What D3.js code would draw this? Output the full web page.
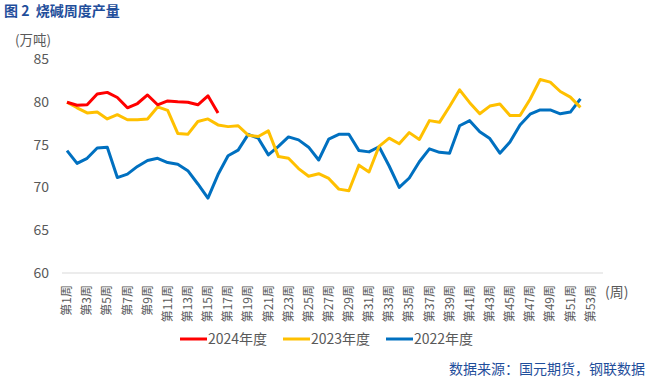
<!DOCTYPE html>
<html>
<head>
<meta charset="utf-8">
<script src="https://cdn.jsdelivr.net/npm/d3@7"></script>
<style>
  body { margin: 0; background: #fff; }
  svg { display: block; font-family: "Noto Sans CJK SC", "Noto Sans", sans-serif; }
</style>
</head>
<body>
<div id="chart"></div>
<script>
// Weekly caustic soda output (10k tonnes), weeks 1-53
const weeks = d3.range(1, 54);
const yTicks = [60, 65, 70, 75, 80, 85];

const s2024 = [79.95, 79.6, 79.65, 80.9, 81.1, 80.5, 79.3, 79.8, 80.8, 79.65,
  80.1, 80.0, 79.95, 79.65, 80.7, 78.7];

const s2023 = [79.95, 79.3, 78.7, 78.8, 78.0, 78.5, 77.9, 77.9, 78.0, 79.4,
  79.0, 76.3, 76.2, 77.7, 78.0, 77.3, 77.1, 77.2, 76.1, 75.95,
  76.6, 73.6, 73.4, 72.2, 71.3, 71.6, 71.05, 69.8, 69.6, 72.6,
  71.8, 74.8, 75.75, 75.1, 76.4, 75.6, 77.8, 77.6, 79.45, 81.4,
  79.9, 78.6, 79.5, 79.75, 78.4, 78.4, 80.3, 82.6, 82.3, 81.2,
  80.55, 79.35];

const s2022 = [74.3, 72.8, 73.4, 74.6, 74.7, 71.15, 71.55, 72.45, 73.15, 73.4,
  72.9, 72.7, 71.95, 70.4, 68.75, 71.5, 73.7, 74.35, 76.2, 75.75,
  73.8, 74.8, 75.9, 75.55, 74.7, 73.2, 75.65, 76.2, 76.2, 74.3,
  74.15, 74.75, 72.5, 70.0, 71.1, 73.0, 74.5, 74.1, 74.0, 77.2,
  77.8, 76.5, 75.7, 74.0, 75.3, 77.3, 78.55, 79.05, 79.05, 78.6,
  78.8, 80.35];

const series = [
  { name: "2024年度", values: s2024, color: "#ff0000" },
  { name: "2023年度", values: s2023, color: "#ffc000" },
  { name: "2022年度", values: s2022, color: "#0070c0" },
];

const width = 648;
const height = 378;
const textColor = "#595959";
const titleBlue = "#1f4e9b";

const svg = d3.select("#chart").append("svg")
  .attr("width", width)
  .attr("height", height);

const x = d3.scalePoint().domain(weeks).range([67, 590.5]);
const y = d3.scaleLinear().domain([60, 85]).range([273, 59]);

// Title
svg.append("text")
  .attr("x", 4).attr("y", 16)
  .attr("fill", titleBlue)
  .attr("font-size", 14)
  .attr("font-weight", "bold")
  .text("图 2\u00a0\u00a0烧碱周度产量");

// Unit label
svg.append("text")
  .attr("x", 15).attr("y", 45)
  .attr("fill", textColor)
  .attr("font-size", 13.5)
  .text("(万吨)");

// Y axis (labels only)
const yAxis = svg.append("g")
  .attr("transform", "translate(49,0)")
  .call(d3.axisLeft(y).tickValues(yTicks).tickSize(0).tickPadding(0));
yAxis.select(".domain").remove();
yAxis.selectAll("text")
  .attr("fill", textColor)
  .attr("font-size", 14)
  .attr("font-family", "'Noto Sans CJK SC', sans-serif");

// X axis line
svg.append("line")
  .attr("x1", 62).attr("x2", 603)
  .attr("y1", y(60)).attr("y2", y(60))
  .attr("stroke", "#d9d9d9")
  .attr("stroke-width", 1);

// X labels, every other week, rotated
const xLabels = weeks.filter((w) => w % 2 === 1);
svg.append("g")
  .selectAll("text")
  .data(xLabels)
  .join("text")
  .attr("transform", (d) => `translate(${x(d)},${y(60) + 12}) rotate(-90)`)
  .attr("text-anchor", "end")
  .attr("dy", "0.35em")
  .attr("fill", textColor)
  .attr("font-size", 12)
  .text((d) => `第${d}周`);

svg.append("text")
  .attr("x", 605).attr("y", 297)
  .attr("fill", textColor)
  .attr("font-size", 14)
  .text("(周)");

// Lines
const line = d3.line()
  .x((d, i) => x(weeks[i]))
  .y((d) => y(d));

svg.append("g")
  .selectAll("path")
  .data(series.slice().reverse())
  .join("path")
  .attr("d", (d) => line(d.values))
  .attr("fill", "none")
  .attr("stroke", (d) => d.color)
  .attr("stroke-width", 3)
  .attr("stroke-linejoin", "round");

// Legend
const legendX = [180, 283, 386];
const legend = svg.append("g")
  .selectAll("g")
  .data(series)
  .join("g")
  .attr("transform", (d, i) => `translate(${legendX[i]},339)`);
legend.append("line")
  .attr("x1", 0).attr("x2", 27)
  .attr("stroke", (d) => d.color)
  .attr("stroke-width", 3);
legend.append("text")
  .attr("x", 28)
  .attr("dy", "0.35em")
  .attr("fill", textColor)
  .attr("font-size", 14)
  .text((d) => d.name);

// Source
svg.append("text")
  .attr("x", 645).attr("y", 374)
  .attr("text-anchor", "end")
  .attr("fill", titleBlue)
  .attr("font-size", 14)
  .text("数据来源：国元期货，钢联数据");
</script>
</body>
</html>
